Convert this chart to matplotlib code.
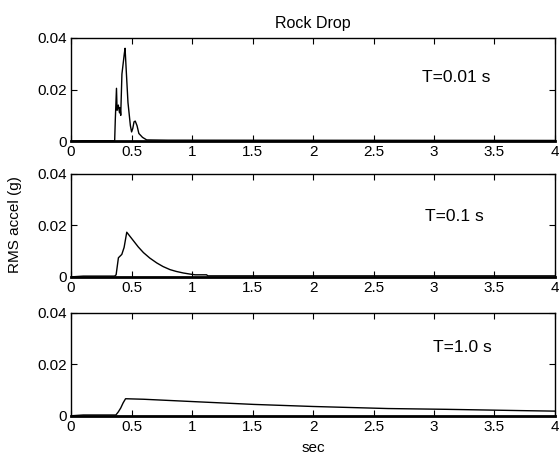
import numpy as np
import matplotlib.pyplot as plt

plt.rcParams["font.family"] = ["Liberation Sans", "DejaVu Sans"]
plt.rcParams["font.size"] = 11
plt.rcParams["xtick.direction"] = "in"
plt.rcParams["ytick.direction"] = "in"

# values (sec, g)
t_001 = [0, 0.10, 0.36, 0.365, 0.375, 0.38, 0.39, 0.40, 0.405, 0.41, 0.42, 0.43, 0.44,
         0.446, 0.455, 0.47, 0.49, 0.50, 0.51, 0.52, 0.53, 0.545, 0.56, 0.59, 0.625, 0.8, 4.0]
rms_001 = [0.0, 0.0002, 0.0002, 0.008, 0.0205, 0.012, 0.014, 0.011, 0.013, 0.010, 0.026, 0.030, 0.034,
           0.036, 0.028, 0.015, 0.006, 0.0036, 0.005, 0.0075, 0.0078, 0.006, 0.003, 0.0015, 0.0005, 0.0004, 0.0003]

t_01 = [0, 0.10, 0.36, 0.372, 0.391, 0.419, 0.438, 0.46, 0.49, 0.515, 0.555, 0.598, 0.65, 0.708,
        0.76, 0.818, 0.87, 0.928, 0.98, 1.025, 1.12, 1.13, 4.0]
rms_01 = [0.0, 0.0003, 0.0003, 0.0008, 0.0074, 0.0087, 0.0114, 0.0173, 0.0155, 0.014, 0.0116,
          0.0094, 0.0073, 0.0054, 0.0040, 0.0028, 0.0021, 0.0015, 0.0011, 0.0008, 0.0008,
          0.0004, 0.0004]

t_10 = [0, 0.10, 0.37, 0.39, 0.41, 0.43, 0.45, 0.60, 1.05, 1.51, 2.0, 2.62, 3.1, 3.72, 4.0]
rms_10 = [0.0, 0.0003, 0.0003, 0.0015, 0.003, 0.005, 0.0066, 0.0064, 0.0054, 0.0044, 0.0036, 0.0028,
          0.0025, 0.0020, 0.0018]

panels = [(t_001, rms_001, "T=0.01 s"), (t_01, rms_01, "T=0.1 s"), (t_10, rms_10, "T=1.0 s")]
label_pos = [(0.725, 0.573), (0.731, 0.545), (0.748, 0.615)]

fig = plt.figure(figsize=(5.6, 4.63), dpi=100)
bottoms = [0.695, 0.402, 0.102]
axes = []
for (t, v, label), b, (lx, ly) in zip(panels, bottoms, label_pos):
    ax = fig.add_axes([0.127, b, 0.864, 0.223])
    ax.plot(t, v, color="black", lw=1.0)
    ax.set_xlim(0, 4)
    ax.set_ylim(0, 0.04)
    ax.set_xticks([0, 0.5, 1, 1.5, 2, 2.5, 3, 3.5, 4])
    ax.set_xticklabels(["0", "0.5", "1", "1.5", "2", "2.5", "3", "3.5", "4"])
    ax.set_yticks([0, 0.02, 0.04])
    ax.set_yticklabels(["0", "0.02", "0.04"])
    ax.tick_params(top=True, right=True, length=4, width=0.8, pad=3)
    for s in ax.spines.values():
        s.set_linewidth(1.0)
    ax.spines["bottom"].set_linewidth(2.0)
    ax.text(lx, ly, label, transform=ax.transAxes, fontsize=12.5)
    axes.append(ax)

axes[0].set_title("Rock Drop", fontsize=11.5, pad=7)
axes[2].set_xlabel("sec", labelpad=5)
fig.text(0.027, 0.515, "RMS accel (g)", rotation=90, va="center", ha="center")

fig.savefig("out.png", dpi=100)
